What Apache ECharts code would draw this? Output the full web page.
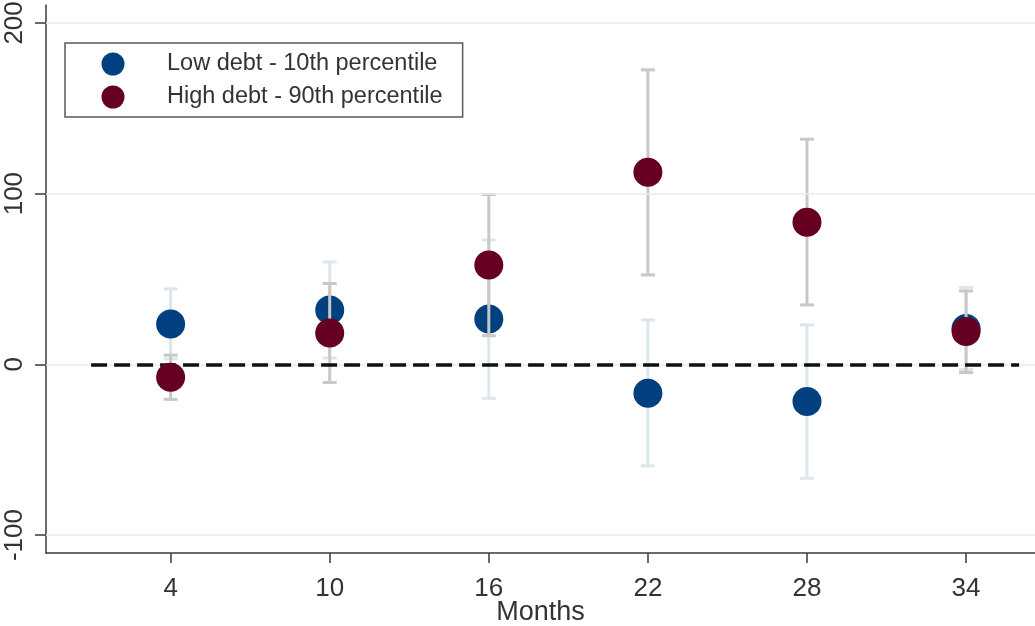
<!DOCTYPE html>
<html>
<head>
<meta charset="utf-8">
<script src="https://cdn.jsdelivr.net/npm/echarts@6/dist/echarts.min.js"></script>
<style>
  html, body { margin: 0; padding: 0; background: #fff; }
  #chart { width: 1035px; height: 626px; }
</style>
</head>
<body>
<div id="chart"></div>
<script>
// Horizon in months
const months = [4, 10, 16, 22, 28, 34];

// Low debt (10th percentile): point estimate and confidence bounds
const lowEst = [23.7, 31.9, 26.6, -16.9, -21.8, 21];
const lowLo  = [3.2, 3.7, -19.9, -59.5, -66.7, -3];
const lowHi  = [44.2, 60, 72.9, 26, 23.1, 45];

// High debt (90th percentile): point estimate and confidence bounds
const highEst = [-7.6, 18.4, 58.2, 112.6, 83.3, 19.2];
const highLo  = [-20.5, -10.6, 16.8, 52.4, 34.8, -4.8];
const highHi  = [5.4, 47.4, 99.5, 172.5, 131.9, 43];

const yTicks = [-100, 0, 100, 200];
const xTicks = months;

const BLUE = '#01407f';
const RED = '#650020';
const FONT = 'Liberation Sans, Arial, sans-serif';

const chart = echarts.init(document.getElementById('chart'), null, { renderer: 'canvas' });

// vertical interval with end caps
function capSeries(name, lo, hi, color, z) {
  return {
    name: name,
    type: 'custom',
    silent: true,
    data: months.map((m, i) => [m, lo[i], hi[i]]),
    encode: { x: 0, y: [1, 2] },
    renderItem: function (params, api) {
      const x = api.value(0);
      const top = api.coord([x, api.value(2)]);
      const bot = api.coord([x, api.value(1)]);
      const hw = 7;
      const style = { stroke: color, lineWidth: 3 };
      return {
        type: 'group',
        children: [
          { type: 'line', shape: { x1: top[0], y1: top[1], x2: bot[0], y2: bot[1] }, style: style },
          { type: 'line', shape: { x1: top[0] - hw, y1: top[1], x2: top[0] + hw, y2: top[1] }, style: style },
          { type: 'line', shape: { x1: bot[0] - hw, y1: bot[1], x2: bot[0] + hw, y2: bot[1] }, style: style }
        ]
      };
    },
    z: z
  };
}

const option = {
  animation: false,
  backgroundColor: '#ffffff',
  grid: { left: 46, right: 0, top: 5, bottom: 73, outerBoundsMode: 'none', containLabel: false },
  legend: {
    data: ['Low debt - 10th percentile', 'High debt - 90th percentile'],
    orient: 'vertical',
    left: 65,
    top: 43,
    icon: 'circle',
    itemWidth: 23,
    itemHeight: 23,
    itemGap: 9,
    padding: [9, 20, 8, 36.5],
    borderColor: '#5a5a5a',
    borderWidth: 1.5,
    backgroundColor: '#ffffff',
    textStyle: { fontFamily: FONT, fontSize: 23.5, color: '#333', lineHeight: 23, padding: [0, 0, 0, 37.5] },
    selectedMode: false
  },
  xAxis: {
    type: 'value',
    min: -0.7,
    max: 36.6,
    name: 'Months',
    nameLocation: 'middle',
    nameGap: 46,
    nameMoveOverlap: false,
    nameTextStyle: { fontFamily: FONT, fontSize: 27, color: '#333' },
    axisLine: { show: true, onZero: false, lineStyle: { color: '#3a3a3a', width: 1.5 } },
    axisTick: { show: true, length: 10, customValues: xTicks, lineStyle: { color: '#3a3a3a', width: 1.5 } },
    axisLabel: { customValues: xTicks, fontFamily: FONT, fontSize: 26, color: '#333', margin: 23 },
    splitLine: { show: false }
  },
  yAxis: {
    type: 'value',
    min: -110.5,
    max: 210.5,
    axisLine: { show: true, onZero: false, lineStyle: { color: '#3a3a3a', width: 1.5 } },
    axisTick: { show: true, length: 11, customValues: yTicks, lineStyle: { color: '#3a3a3a', width: 1.5 } },
    axisLabel: { customValues: yTicks, rotate: 90, fontFamily: FONT, fontSize: 26, color: '#333', margin: 18 },
    splitLine: { show: false }
  },
  series: [
    {
      name: 'grid',
      type: 'line',
      data: [],
      silent: true,
      markLine: {
        silent: true,
        symbol: 'none',
        label: { show: false },
        lineStyle: { color: '#e4eef1', width: 1.5, type: 'solid' },
        data: yTicks.map(v => ({ yAxis: v }))
      },
      z: 1
    },
    capSeries('lowCI', lowLo, lowHi, '#dbe7ed', 2),
    {
      name: 'Low debt - 10th percentile',
      type: 'scatter',
      symbol: 'circle',
      symbolSize: 29,
      itemStyle: { color: BLUE, opacity: 1 },
      data: months.map((m, i) => [m, lowEst[i]]),
      z: 3
    },
    capSeries('highCI', highLo, highHi, '#c8c8c8', 4),
    {
      name: 'High debt - 90th percentile',
      type: 'scatter',
      symbol: 'circle',
      symbolSize: 29,
      itemStyle: { color: RED, opacity: 1 },
      data: months.map((m, i) => [m, highEst[i]]),
      z: 5
    },
    {
      name: 'zero',
      type: 'line',
      data: [],
      silent: true,
      markLine: {
        silent: true,
        symbol: 'none',
        label: { show: false },
        lineStyle: { color: '#111', width: 3.5, type: [16, 7] },
        data: [[{ coord: [1, 0] }, { coord: [36, 0] }]]
      },
      z: 3
    }
  ]
};

chart.setOption(option);
</script>
</body>
</html>
